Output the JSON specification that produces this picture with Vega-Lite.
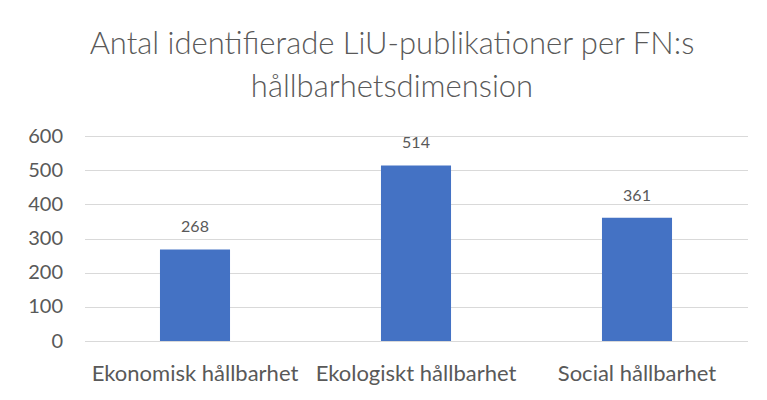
{
  "$schema": "https://vega.github.io/schema/vega-lite/v6.json",
  "width": 663,
  "height": 205,
  "autosize": {"type": "none"},
  "padding": {"left": 84.5, "top": 136, "right": 19.5, "bottom": 59},
  "background": "white",
  "title": {
    "text": ["Antal identifierade LiU-publikationer per FN:s", "hållbarhetsdimension"],
    "font": "Lato",
    "fontSize": 31,
    "fontWeight": 300,
    "color": "#595959",
    "lineHeight": 43,
    "anchor": "middle",
    "dx": -24,
    "offset": 22
  },
  "data": {
    "values": [
      {"dimension": "Ekonomisk hållbarhet", "antal": 268},
      {"dimension": "Ekologiskt hållbarhet", "antal": 514},
      {"dimension": "Social hållbarhet", "antal": 361}
    ]
  },
  "encoding": {
    "x": {
      "field": "dimension",
      "type": "nominal",
      "sort": null,
      "scale": {"paddingInner": 0.683, "paddingOuter": 0.3415},
      "axis": {
        "title": null,
        "labelAngle": 0,
        "labelFont": "Lato",
        "labelFontSize": 22,
        "labelColor": "#595959",
        "labelPadding": 22,
        "labelLimit": 400,
        "labelOverlap": false,
        "ticks": false,
        "domain": false
      }
    },
    "y": {
      "field": "antal",
      "type": "quantitative",
      "scale": {"domain": [0, 600]},
      "axis": {
        "title": null,
        "values": [0, 100, 200, 300, 400, 500, 600],
        "labelFont": "Lato",
        "labelFontSize": 20,
        "labelColor": "#595959",
        "labelPadding": 22,
        "ticks": false,
        "domain": false,
        "gridColor": "#d9d9d9",
        "gridWidth": 1
      }
    }
  },
  "layer": [
    {"mark": {"type": "bar", "color": "#4472C4"}},
    {
      "mark": {
        "type": "text",
        "font": "Lato",
        "fontSize": 16,
        "color": "#595959",
        "baseline": "middle",
        "dy": -22
      },
      "encoding": {"text": {"field": "antal", "type": "quantitative"}}
    }
  ],
  "config": {"view": {"stroke": null}}
}
